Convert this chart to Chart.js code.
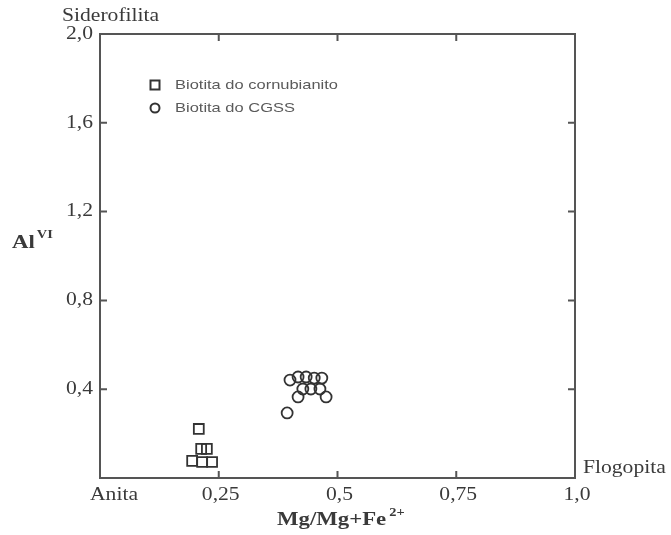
<!DOCTYPE html>
<html>
<head>
<meta charset="utf-8">
<script src="https://cdn.jsdelivr.net/npm/chart.js@4.4.0/dist/chart.umd.min.js"></script>
<style>
  html, body { margin: 0; padding: 0; background: #ffffff; }
  #wrap { width: 671px; height: 535px; }
</style>
</head>
<body>
<div id="wrap"><canvas id="chart" width="671" height="535"></canvas></div>
<script>
// Ticks
const xTickValues = [0.25, 0.5, 0.75, 1.0];
const xTickLabels = ['0,25', '0,5', '0,75', '1,0'];
const yTickValues = [0.4, 0.8, 1.2, 1.6, 2.0];
const yTickLabels = ['0,4', '0,8', '1,2', '1,6', '2,0'];

// Biotita do cornubianito (quadrados)
const cornX = [0.208, 0.213, 0.225, 0.194, 0.215, 0.236];
const cornY = [0.221, 0.131, 0.131, 0.077, 0.072, 0.072];

// Biotita do CGSS (círculos)
const cgssX = [0.400, 0.417, 0.434, 0.451, 0.467, 0.427, 0.444, 0.463, 0.417, 0.476, 0.394];
const cgssY = [0.441, 0.455, 0.455, 0.450, 0.450, 0.401, 0.401, 0.401, 0.365, 0.365, 0.293];

const seriesNames = ['Biotita do cornubianito', 'Biotita do CGSS'];

const INK = '#3a3a3a';
const FRAME = '#555555';
const SERIF = '"Liberation Serif", "Times New Roman", serif';
const SANS = '"Liberation Sans", Arial, sans-serif';

function toPoints(xs, ys) {
    return xs.map((x, i) => ({ x: x, y: ys[i] }));
}

// texto um pouco esticado na horizontal, como no original escaneado
function drawText(ctx, s, x, y, font, align, sx, color) {
    ctx.save();
    ctx.font = font;
    ctx.fillStyle = color || INK;
    ctx.textBaseline = 'middle';
    const w = ctx.measureText(s).width * sx;
    let left = x;
    if (align === 'center') left = x - w / 2;
    if (align === 'right') left = x - w;
    ctx.translate(left, y);
    ctx.scale(sx, 1);
    ctx.textAlign = 'left';
    ctx.fillText(s, 0, 0);
    ctx.restore();
    return w;
}

const decorPlugin = {
    id: 'decor',
    afterDraw(chart) {
        const ctx = chart.ctx;
        const a = chart.chartArea;
        const xs = chart.scales.x;
        const ys = chart.scales.y;

        // moldura
        ctx.save();
        ctx.strokeStyle = FRAME;
        ctx.lineWidth = 2;
        ctx.strokeRect(a.left, a.top, a.right - a.left, a.bottom - a.top);

        // ticks para dentro
        const tl = 7;
        ctx.lineWidth = 2;
        ctx.beginPath();
        xTickValues.forEach(v => {
            if (v >= 1) return;
            const px = xs.getPixelForValue(v);
            ctx.moveTo(px, a.bottom); ctx.lineTo(px, a.bottom - tl);
            ctx.moveTo(px, a.top); ctx.lineTo(px, a.top + tl);
        });
        yTickValues.forEach(v => {
            if (v >= 2) return;
            const py = ys.getPixelForValue(v);
            ctx.moveTo(a.left, py); ctx.lineTo(a.left + tl, py);
            ctx.moveTo(a.right, py); ctx.lineTo(a.right - tl, py);
        });
        ctx.stroke();
        ctx.restore();

        const tickFont = '18px ' + SERIF;
        xTickValues.forEach((v, i) => {
            drawText(ctx, xTickLabels[i], xs.getPixelForValue(v) + 2, a.bottom + 17, tickFont, 'center', 1.2);
        });
        yTickValues.forEach((v, i) => {
            drawText(ctx, yTickLabels[i], a.left - 7, ys.getPixelForValue(v), tickFont, 'right', 1.2);
        });

        // pontos extremos
        drawText(ctx, 'Anita', a.left + 14, a.bottom + 17, tickFont, 'center', 1.2);
        drawText(ctx, 'Siderofilita', a.left - 38, a.top - 18, tickFont, 'left', 1.2);
        drawText(ctx, 'Flogopita', a.right + 8, a.bottom - 10, tickFont, 'left', 1.2);

        // título eixo x
        const boldFont = 'bold 19px ' + SERIF;
        const supFont = 'bold 12px ' + SERIF;
        const tx = 277;
        const w1 = drawText(ctx, 'Mg/Mg+Fe', tx, a.bottom + 42, boldFont, 'left', 1.2);
        drawText(ctx, '2+', tx + w1 + 3, a.bottom + 35, supFont, 'left', 1.2);

        // título eixo y
        const w2 = drawText(ctx, 'Al', 12, 243, boldFont, 'left', 1.2);
        drawText(ctx, 'VI', 12 + w2 + 2, 235, supFont, 'left', 1.2);

        // legenda
        const legFont = '13.5px ' + SANS;
        ctx.save();
        ctx.strokeStyle = '#333333';
        ctx.lineWidth = 2;
        ctx.strokeRect(150.5, 80.5, 9, 9);
        ctx.beginPath();
        ctx.arc(155, 108, 4.5, 0, Math.PI * 2);
        ctx.stroke();
        ctx.restore();
        drawText(ctx, seriesNames[0], 175, 85, legFont, 'left', 1.22, '#5a5a5a');
        drawText(ctx, seriesNames[1], 175, 108, legFont, 'left', 1.22, '#5a5a5a');
    }
};

new Chart(document.getElementById('chart').getContext('2d'), {
    type: 'scatter',
    data: {
        datasets: [{
            label: seriesNames[0],
            data: toPoints(cornX, cornY),
            pointStyle: 'rect',
            pointRadius: 7,
            borderColor: '#333333',
            backgroundColor: 'rgba(0,0,0,0)',
            borderWidth: 1.8
        }, {
            label: seriesNames[1],
            data: toPoints(cgssX, cgssY),
            pointStyle: 'circle',
            pointRadius: 5.5,
            borderColor: '#333333',
            backgroundColor: 'rgba(0,0,0,0)',
            borderWidth: 1.8
        }]
    },
    options: {
        responsive: false,
        animation: false,
        layout: {
            padding: { left: 100, right: 96, top: 34, bottom: 57 }
        },
        plugins: {
            legend: { display: false },
            tooltip: { enabled: false }
        },
        scales: {
            x: { type: 'linear', min: 0, max: 1, display: false },
            y: { type: 'linear', min: 0, max: 2, display: false }
        }
    },
    plugins: [decorPlugin]
});
</script>
</body>
</html>
